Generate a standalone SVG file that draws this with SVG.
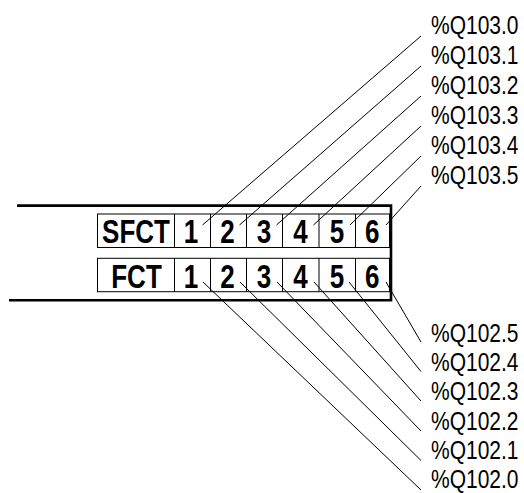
<svg xmlns="http://www.w3.org/2000/svg" width="524" height="493" viewBox="0 0 524 493">
<style>
.frame{fill:none;stroke:#000;stroke-width:2.6;stroke-linejoin:miter}
.cell{fill:#fff;stroke:#000;stroke-width:1}
.lead{stroke:#000;stroke-width:1;fill:none}
.big{font-family:"Liberation Sans",Arial,sans-serif;font-weight:bold;font-size:26px;text-anchor:middle;fill:#000}
.lbl{font-family:"Liberation Sans",Arial,sans-serif;font-size:21px;fill:#000}
</style>
<rect width="524" height="493" fill="#fff"/>
<g id="frame">
<polyline class="frame" points="17,205.6 391,205.6 391,300.3 9,300.3"/>
</g>
<g id="sfct-row">
<rect class="cell" x="97.5" y="214" width="292" height="33.5"/>
<line class="lead" x1="174.5" y1="214" x2="174.5" y2="247.5"/>
<line class="lead" x1="210.5" y1="214" x2="210.5" y2="247.5"/>
<line class="lead" x1="246.5" y1="214" x2="246.5" y2="247.5"/>
<line class="lead" x1="282.5" y1="214" x2="282.5" y2="247.5"/>
<line class="lead" x1="319" y1="214" x2="319" y2="247.5"/>
<line class="lead" x1="355.5" y1="214" x2="355.5" y2="247.5"/>
<text class="big" transform="translate(136,243.3) scale(1,1.25)">SFCT</text>
<text class="big" transform="translate(191,243.3) scale(1,1.25)">1</text>
<text class="big" transform="translate(227.5,243.3) scale(1,1.25)">2</text>
<text class="big" transform="translate(264,243.3) scale(1,1.25)">3</text>
<text class="big" transform="translate(300.5,243.3) scale(1,1.25)">4</text>
<text class="big" transform="translate(337,243.3) scale(1,1.25)">5</text>
<text class="big" transform="translate(372.3,243.3) scale(1,1.25)">6</text>
</g>
<g id="fct-row">
<rect class="cell" x="97.5" y="258.3" width="292" height="33.4"/>
<line class="lead" x1="174.5" y1="258.3" x2="174.5" y2="291.7"/>
<line class="lead" x1="210.5" y1="258.3" x2="210.5" y2="291.7"/>
<line class="lead" x1="246.5" y1="258.3" x2="246.5" y2="291.7"/>
<line class="lead" x1="282.5" y1="258.3" x2="282.5" y2="291.7"/>
<line class="lead" x1="319" y1="258.3" x2="319" y2="291.7"/>
<line class="lead" x1="355.5" y1="258.3" x2="355.5" y2="291.7"/>
<text class="big" transform="translate(136.5,288.3) scale(1,1.25)">FCT</text>
<text class="big" transform="translate(191,288.3) scale(1,1.25)">1</text>
<text class="big" transform="translate(227.5,288.3) scale(1,1.25)">2</text>
<text class="big" transform="translate(264,288.3) scale(1,1.25)">3</text>
<text class="big" transform="translate(300.5,288.3) scale(1,1.25)">4</text>
<text class="big" transform="translate(337,288.3) scale(1,1.25)">5</text>
<text class="big" transform="translate(372.3,288.3) scale(1,1.25)">6</text>
</g>
<g id="connectors">
<line class="lead" x1="202.5" y1="225" x2="421" y2="36"/>
<line class="lead" x1="239.5" y1="225" x2="421" y2="66"/>
<line class="lead" x1="276.5" y1="225" x2="421" y2="96"/>
<line class="lead" x1="313.5" y1="225" x2="421" y2="126"/>
<line class="lead" x1="350" y1="225" x2="421" y2="156"/>
<line class="lead" x1="386" y1="225" x2="421" y2="186"/>
<line class="lead" x1="203" y1="282" x2="421" y2="490"/>
<line class="lead" x1="240" y1="282" x2="421" y2="460.5"/>
<line class="lead" x1="277" y1="282" x2="421" y2="431"/>
<line class="lead" x1="314" y1="282" x2="421" y2="401"/>
<line class="lead" x1="349" y1="282" x2="421" y2="371.5"/>
<line class="lead" x1="386" y1="282" x2="421" y2="342"/>
</g>
<g id="labels-103">
<text class="lbl" transform="translate(431,34) scale(1,1.2)">%Q103.0</text>
<text class="lbl" transform="translate(431,64) scale(1,1.2)">%Q103.1</text>
<text class="lbl" transform="translate(431,94) scale(1,1.2)">%Q103.2</text>
<text class="lbl" transform="translate(431,124) scale(1,1.2)">%Q103.3</text>
<text class="lbl" transform="translate(431,154) scale(1,1.2)">%Q103.4</text>
<text class="lbl" transform="translate(431,184) scale(1,1.2)">%Q103.5</text>
</g>
<g id="labels-102">
<text class="lbl" transform="translate(431,342) scale(1,1.2)">%Q102.5</text>
<text class="lbl" transform="translate(431,371.2) scale(1,1.2)">%Q102.4</text>
<text class="lbl" transform="translate(431,400.4) scale(1,1.2)">%Q102.3</text>
<text class="lbl" transform="translate(431,429.6) scale(1,1.2)">%Q102.2</text>
<text class="lbl" transform="translate(431,458.8) scale(1,1.2)">%Q102.1</text>
<text class="lbl" transform="translate(431,488) scale(1,1.2)">%Q102.0</text>
</g>
</svg>
